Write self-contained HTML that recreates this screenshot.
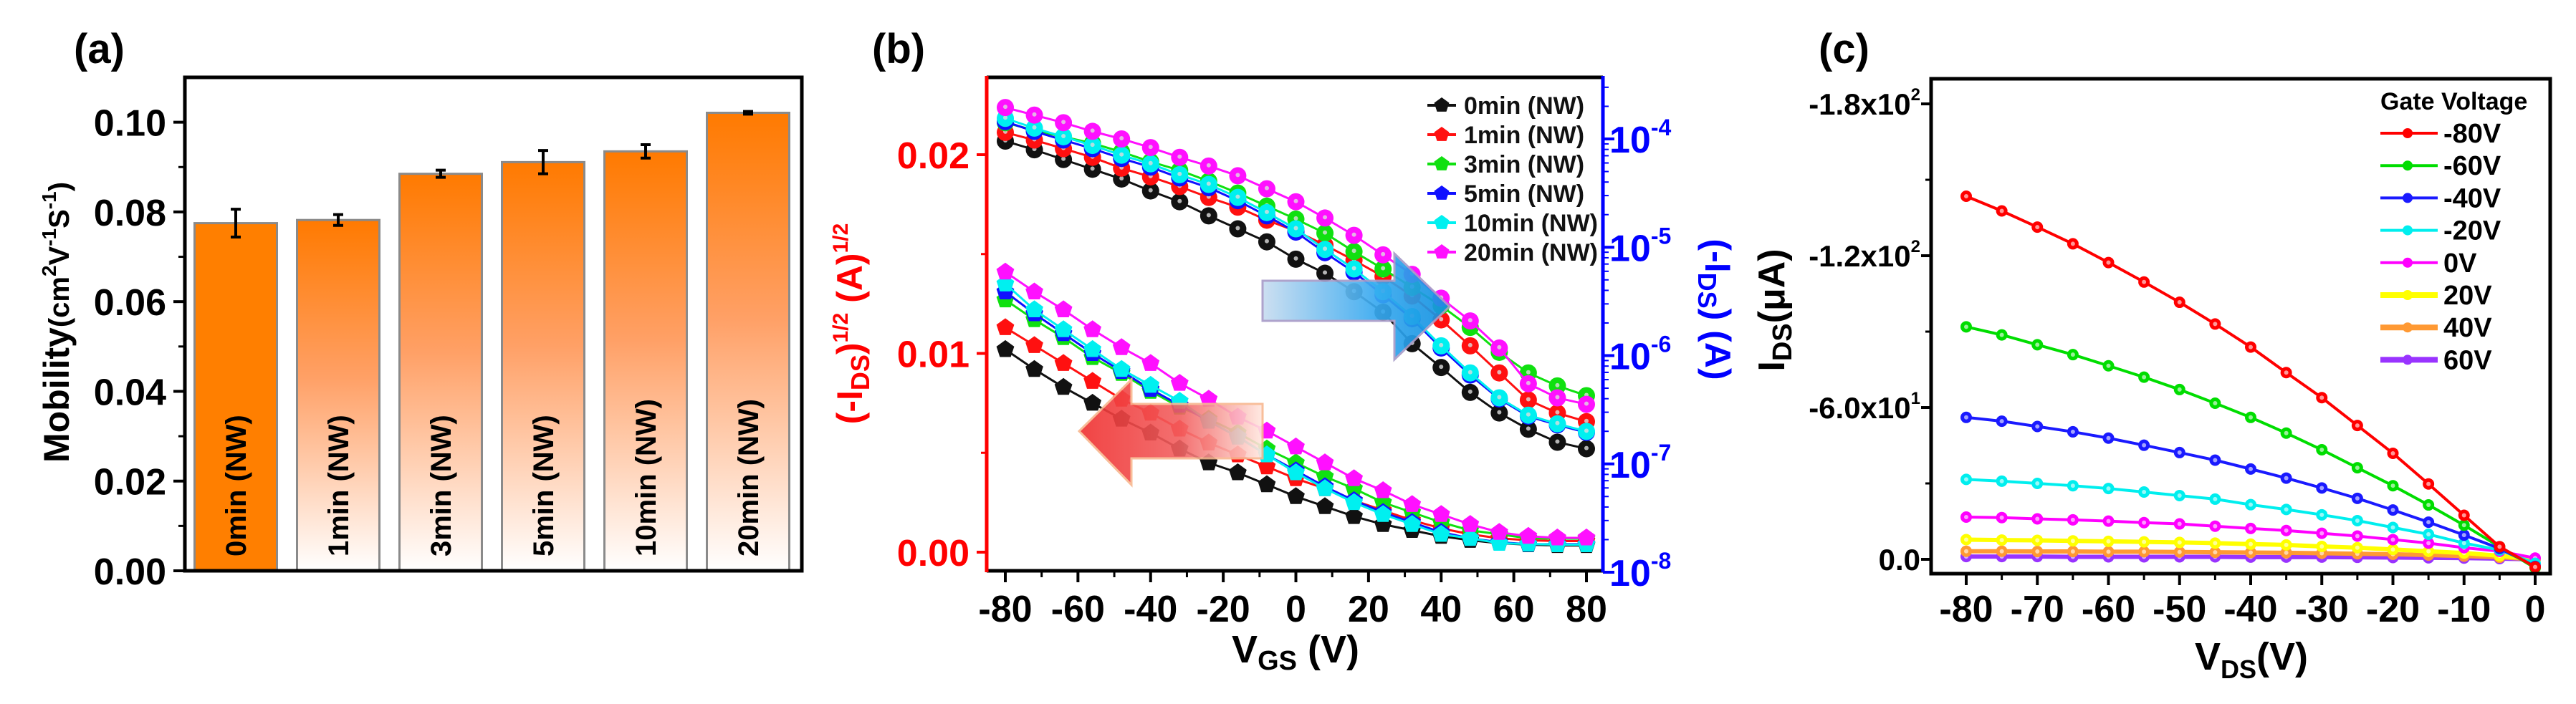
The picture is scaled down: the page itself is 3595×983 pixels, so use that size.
<!DOCTYPE html>
<html><head><meta charset="utf-8">
<style>
html,body{margin:0;padding:0;background:#fff;}
svg{display:block;font-family:"Liberation Sans",Arial,sans-serif;font-weight:bold;}
</style></head>
<body>
<svg id="fig" width="3595" height="983" viewBox="0 0 3595 983" xmlns="http://www.w3.org/2000/svg">
<defs>
<linearGradient id="barGrad" x1="0" y1="0" x2="0" y2="1">
<stop offset="0" stop-color="#ff7a00"/><stop offset="0.45" stop-color="#ffa066"/><stop offset="1" stop-color="#ffffff"/>
</linearGradient>
<linearGradient id="blueArrow" x1="0" y1="0" x2="1" y2="0">
<stop offset="0" stop-color="#c9ddf0"/><stop offset="0.6" stop-color="#3aaaf0"/><stop offset="1" stop-color="#1090e0"/>
</linearGradient>
<linearGradient id="redArrow" x1="0" y1="0" x2="1" y2="0">
<stop offset="0" stop-color="#f03030"/><stop offset="0.55" stop-color="#f26060"/><stop offset="1" stop-color="#ffe8e0"/>
</linearGradient>
</defs>
<g id="pa"></g>
<g id="pb"></g>
<g id="pc"></g>
</svg>
<script>
// ---------- Panel (a) data ----------
const barCategories = ["0min (NW)","1min (NW)","3min (NW)","5min (NW)","10min (NW)","20min (NW)"];
const mobilityValues = [0.0775,0.0782,0.0885,0.0911,0.0935,0.1021];
const mobilityErrors = [0.0031,0.0012,0.0008,0.0026,0.0015,0.0003];
const mobilityTicks = ["0.00","0.02","0.04","0.06","0.08","0.10"];

// ---------- Panel (b) data ----------
const vgsValues = [-80,-72,-64,-56,-48,-40,-32,-24,-16,-8,0,8,16,24,32,40,48,56,64,72,80];
const seriesBNames = ["0min (NW)","1min (NW)","3min (NW)","5min (NW)","10min (NW)","20min (NW)"];
const sqrt0 = [.0102,.0092,.0083,.0075,.0067,.0060,.0052,.0045,.0040,.0034,.0028,.0023,.0018,.0014,.0011,.0008,.0006,.00045,.00038,.00034,.00034];
const sqrt1 = [.0113,.0104,.0095,.0086,.0077,.0070,.0062,.0055,.0049,.0043,.0037,.0032,.0026,.0021,.0016,.0012,.0009,.0007,.0006,.00056,.00056];
const sqrt3 = [.0127,.0117,.0108,.0098,.0090,.0081,.0073,.0067,.0060,.0052,.0045,.0038,.0032,.0025,.0020,.0015,.0011,.0009,.0007,.00068,.00068];
const sqrt5 = [.0131,.0120,.0110,.0100,.0091,.0082,.0074,.0066,.0058,.0049,.0041,.0033,.0026,.0020,.0015,.0010,.0007,.0005,.0004,.0004,.0004];
const sqrt10 = [.0135,.0122,.0112,.0102,.0092,.0084,.0076,.0066,.0058,.0049,.0040,.0032,.0025,.0019,.0014,.0009,.0007,.00045,.00041,.00038,.00038];
const sqrt20 = [.0141,.0131,.0122,.0112,.0103,.0095,.0085,.0077,.0068,.0061,.0053,.0045,.0037,.0031,.0024,.0019,.0014,.0010,.0008,.00072,.00072];
const logI0 = [-4.02,-4.10,-4.19,-4.28,-4.37,-4.48,-4.58,-4.71,-4.83,-4.95,-5.11,-5.24,-5.41,-5.60,-5.89,-6.11,-6.34,-6.53,-6.68,-6.80,-6.86];
const logI1 = [-3.94,-4.01,-4.09,-4.17,-4.27,-4.35,-4.44,-4.54,-4.63,-4.75,-4.85,-4.98,-5.12,-5.27,-5.45,-5.67,-5.91,-6.16,-6.41,-6.53,-6.61];
const logI3 = [-3.85,-3.92,-3.98,-4.04,-4.12,-4.21,-4.29,-4.39,-4.50,-4.62,-4.74,-4.87,-5.04,-5.20,-5.37,-5.54,-5.74,-5.97,-6.16,-6.28,-6.37];
const logI5 = [-3.84,-3.93,-4.01,-4.09,-4.18,-4.26,-4.36,-4.45,-4.57,-4.71,-4.86,-5.05,-5.23,-5.44,-5.66,-5.93,-6.18,-6.40,-6.56,-6.64,-6.71];
const logI10 = [-3.81,-3.90,-3.98,-4.06,-4.15,-4.23,-4.33,-4.42,-4.54,-4.68,-4.83,-5.02,-5.20,-5.41,-5.64,-5.91,-6.16,-6.39,-6.55,-6.63,-6.70];
const logI20 = [-3.71,-3.78,-3.85,-3.93,-4.00,-4.08,-4.17,-4.25,-4.34,-4.46,-4.58,-4.73,-4.89,-5.07,-5.25,-5.47,-5.68,-5.93,-6.26,-6.39,-6.45];
const vgsTicks = ["-80","-60","-40","-20","0","20","40","60","80"];
const sqrtTicks = ["0.00","0.01","0.02"];
const logTickExps = [-8,-7,-6,-5,-4];

// ---------- Panel (c) data ----------
const vdsValues = [-80,-75,-70,-65,-60,-55,-50,-45,-40,-35,-30,-25,-20,-15,-10,-5,0];
const gateLabels = ["-80V","-60V","-40V","-20V","0V","20V","40V","60V"];
const idsM80 = [-143.5,-137.7,-131.3,-124.7,-117.3,-109.6,-101.6,-93.0,-83.9,-73.8,-63.9,-52.9,-41.9,-29.8,-17.4,-5.0,3.0];
const idsM60 = [-91.9,-88.7,-84.8,-80.9,-76.5,-72.0,-67.1,-61.7,-56.1,-49.9,-43.3,-36.2,-29.1,-21.5,-13.5,-5.0,3.4];
const idsM40 = [-56.1,-54.6,-52.5,-50.4,-47.9,-45.1,-42.2,-39.2,-35.7,-32.1,-28.2,-24.1,-19.5,-14.7,-9.6,-4.3,2.8];
const idsM20 = [-31.6,-30.9,-30.0,-29.1,-28.0,-26.6,-25.2,-23.8,-21.6,-19.7,-17.6,-15.3,-12.6,-9.9,-6.4,-3.7,1.6];
const ids0 = [-16.7,-16.5,-16.0,-15.6,-15.1,-14.5,-14.0,-13.1,-12.2,-11.4,-10.3,-9.2,-7.8,-6.4,-4.6,-3.2,-0.5];
const idsP20 = [-7.8,-7.6,-7.5,-7.3,-7.1,-6.9,-6.7,-6.4,-6.0,-5.7,-5.1,-4.6,-3.9,-3.2,-2.5,-1.4,0];
const idsP40 = [-3.2,-3.2,-3.1,-3.1,-3.0,-3.0,-2.9,-2.8,-2.7,-2.6,-2.4,-2.2,-2.0,-1.7,-1.3,-0.8,0];
const idsP60 = [-1.1,-1.1,-1.1,-1.0,-1.0,-1.0,-1.0,-1.0,-0.9,-0.9,-0.9,-0.8,-0.7,-0.6,-0.5,-0.3,0];
const vdsTicks = ["-80","-70","-60","-50","-40","-30","-20","-10","0"];
const idsTickVals = [-180,-120,-60,0];
const idsTickLabels = ["-1.8x10","-1.2x10","-6.0x10","0.0"];
const idsTickExps = ["2","2","1",""];

const NS="http://www.w3.org/2000/svg";
function mk(tag, parent, attrs){const e=document.createElementNS(NS,tag);for(const k in attrs)e.setAttribute(k,attrs[k]);parent.appendChild(e);return e;}
function txt(parent, x, y, s, size, attrs){const t=mk('text',parent,Object.assign({x:x,y:y,'font-size':size},attrs||{}));t.textContent=s;return t;}

// ================= PANEL A =================
(function(){
 const g=document.getElementById('pa');
 const L=258,R=1119,T=108,B=797,ymin=0,ymax=0.11;
 const ys=v=>B-(v-ymin)/(ymax-ymin)*(B-T);
 const step=143, x0=329, bw=115;
 const xs=i=>x0+i*step;
 let t=txt(g,103,88,"(a)",58,{});
 
 barCategories.forEach((c,i)=>{
  const v=mobilityValues[i];
  const r=mk('rect',g,{x:xs(i)-bw/2,y:ys(v),width:bw,height:B-ys(v),fill:i===0?'#ff7f00':'url(#barGrad)',stroke:'#8a8a8a','stroke-width':3});
  
  
  const e=mobilityErrors[i];
  const eb=mk('path',g,{d:`M${xs(i)},${ys(v+e)}V${ys(v-e)}M${xs(i)-7},${ys(v+e)}h14M${xs(i)-7},${ys(v-e)}h14`,stroke:'#000','stroke-width':4,fill:'none'});
  
  
  const lt=txt(g,0,0,c,40,{transform:`translate(${xs(i)+14},777) rotate(-90)`,fill:'#000'});
  
  
 });
 const fr=mk('rect',g,{x:L,y:T,width:R-L,height:B-T,fill:'none',stroke:'#000','stroke-width':5});
 
 mobilityTicks.forEach((s)=>{
  const v=parseFloat(s);
  mk('line',g,{x1:L-16,x2:L,y1:ys(v),y2:ys(v),stroke:'#000','stroke-width':4});
  const tl=txt(g,232,ys(v)+19,s,52,{'text-anchor':'end'});
  
 });
 for(let k=0;k<5;k++){const v=0.01+k*0.02;mk('line',g,{x1:L-9,x2:L,y1:ys(v),y2:ys(v),stroke:'#000','stroke-width':3});}
 const yt=mk('text',g,{transform:'translate(96,450) rotate(-90)','text-anchor':'middle','font-size':50});
 yt.innerHTML='Mobility<tspan font-size="40">(cm</tspan><tspan font-size="28" dy="-18">2</tspan><tspan font-size="40" dy="18">V</tspan><tspan font-size="28" dy="-18">-1</tspan><tspan font-size="40" dy="18">S</tspan><tspan font-size="28" dy="-18">-1</tspan><tspan font-size="40" dy="18">)</tspan>';
 
})();

// ================= PANEL B =================
(function(){
 const g=document.getElementById('pb');
 const L=1377,R=2237,T=108,B=797;
 const xs=v=>1403+(v+80)/160*811;
 const ys=v=>771-v/0.01*277.5;
 const yl=e=>194+(-4-e)*151.25;
 const cols=['#111111','#ff1010','#10e010','#1010ff','#00f0f0','#ff10ff'];
 const sqrtSets=[sqrt0,sqrt1,sqrt3,sqrt5,sqrt10,sqrt20];
 const logSets=[logI0,logI1,logI3,logI5,logI10,logI20];
 let t=txt(g,1217,88,"(b)",58,{});
 
 function pent(cx,cy,r){let p=[];for(let k=0;k<5;k++){const a=-Math.PI/2+k*2*Math.PI/5;p.push((cx+r*Math.cos(a)).toFixed(1)+','+(cy+r*Math.sin(a)).toFixed(1));}return p.join(' ');}
 // sqrt (linear) curves
 sqrtSets.forEach((arr,si)=>{
  const d=arr.map((v,i)=>(i?'L':'M')+xs(vgsValues[i])+','+ys(v)).join('');
  const p=mk('path',g,{d:d,stroke:cols[si],'stroke-width':3,fill:'none'});
  
  
  arr.forEach((v,i)=>{
   const m=mk('polygon',g,{points:pent(xs(vgsValues[i]),ys(v),13),fill:cols[si]});
   
   
  });
 });
 // log curves
 logSets.forEach((arr,si)=>{
  const d=arr.map((v,i)=>(i?'L':'M')+xs(vgsValues[i])+','+yl(v)).join('');
  const p=mk('path',g,{d:d,stroke:cols[si],'stroke-width':3,fill:'none'});
  
  
  arr.forEach((v,i)=>{
   const m=mk('circle',g,{cx:xs(vgsValues[i]),cy:yl(v),r:12,fill:cols[si]});
   
   
   mk('circle',g,{cx:xs(vgsValues[i]),cy:yl(v)-1,r:3,fill:'#ddd','opacity':0.8});
  });
 });
 // arrows
 const ba=mk('path',g,{d:'M1762,392H1946V354L2023,428L1946,502V448H1762Z',fill:'url(#blueArrow)',stroke:'#a89cc8','stroke-width':3,opacity:0.92});
 
 const ra=mk('path',g,{d:'M1762,564H1579V530L1506,602L1579,677V640H1762Z',fill:'url(#redArrow)',stroke:'#f8b890','stroke-width':3,opacity:0.9});
 
 // frame
 mk('line',g,{x1:L,x2:R,y1:T,y2:T,stroke:'#000','stroke-width':5});
 mk('line',g,{x1:L,x2:R,y1:B,y2:B,stroke:'#000','stroke-width':5});
 const la=mk('line',g,{x1:L,x2:L,y1:T-2,y2:B+2,stroke:'#ff0000','stroke-width':5});
 
 const raX=mk('line',g,{x1:R,x2:R,y1:T-2,y2:B+2,stroke:'#0000ff','stroke-width':5});
 
 // x ticks
 vgsTicks.forEach(s=>{const v=+s;mk('line',g,{x1:xs(v),x2:xs(v),y1:B,y2:B+16,stroke:'#000','stroke-width':4});
  const tl=txt(g,xs(v),868,s,52,{'text-anchor':'middle'});});
 for(let v=-70;v<=70;v+=20)mk('line',g,{x1:xs(v),x2:xs(v),y1:B,y2:B+9,stroke:'#000','stroke-width':3});
 // left ticks
 sqrtTicks.forEach(s=>{const v=+s;mk('line',g,{x1:L-14,x2:L,y1:ys(v),y2:ys(v),stroke:'#ff0000','stroke-width':4});
  const tl=txt(g,1353,ys(v)+19,s,52,{'text-anchor':'end',fill:'#ff0000'});});
 [0.005,0.015].forEach(v=>mk('line',g,{x1:L-8,x2:L,y1:ys(v),y2:ys(v),stroke:'#ff0000','stroke-width':3}));
 // right log ticks
 logTickExps.forEach(e=>{mk('line',g,{x1:R,x2:R+16,y1:yl(e),y2:yl(e),stroke:'#0000ff','stroke-width':4});
  const tl=mk('text',g,{x:2246,y:yl(e)+19,'font-size':52,fill:'#0000ff'});
  tl.innerHTML='10<tspan font-size="32" dy="-24">'+e+'</tspan>';
  
  for(let k=2;k<10;k++){const yy=yl(e+Math.log10(k));if(yy>T)mk('line',g,{x1:R,x2:R+8,y1:yy,y2:yy,stroke:'#0000ff','stroke-width':2});}
 });
 // axis titles
 const xt=mk('text',g,{x:1808,y:925,'font-size':54,'text-anchor':'middle'});
 xt.innerHTML='V<tspan font-size="38" dy="10">GS</tspan><tspan dy="-10"> (V)</tspan>';
 
 const lt=mk('text',g,{transform:'translate(1203,452) rotate(-90)','font-size':50,'text-anchor':'middle',fill:'#ff0000'});
 lt.innerHTML='(-I<tspan font-size="36" dy="10">DS</tspan><tspan dy="-10">)</tspan><tspan font-size="30" dy="-20">1/2</tspan><tspan dy="20"> (A)</tspan><tspan font-size="30" dy="-20">1/2</tspan>';
 
 const rt=mk('text',g,{transform:'translate(2380,432) rotate(90)','font-size':50,'text-anchor':'middle',fill:'#0000ff'});
 rt.innerHTML='(-I<tspan font-size="36" dy="10">DS</tspan><tspan dy="-10">) (A)</tspan>';
 
 // legend
 seriesBNames.forEach((n,i)=>{
  const y=147+i*41;
  mk('line',g,{x1:1992,x2:2032,y1:y,y2:y,stroke:cols[i],'stroke-width':4});
  const lm=mk('polygon',g,{points:pent(2012,y,11),fill:cols[i]});
  
  const le=txt(g,2043,y+12,n,34,{fill:'#111'});
  
 });
})();

// ================= PANEL C =================
(function(){
 const g=document.getElementById('pc');
 const L=2695,R=3559,T=110,B=801;
 const xs=v=>2744+(v+80)/80*794;
 const ys=v=>781+v*3.533;
 const cols=['#ff0000','#00dd00','#1a1aff','#00eeee','#ff00ff','#ffff00','#ff9933','#9933ff'];
 const sets=[idsM80,idsM60,idsM40,idsM20,ids0,idsP20,idsP40,idsP60];
 let t=txt(g,2538,88,"(c)",58,{});
 
 for(let si=sets.length-1;si>=0;si--){
  const arr=sets[si];
  const d=arr.map((v,i)=>(i?'L':'M')+xs(vdsValues[i])+','+ys(v)).join('');
  const p=mk('path',g,{d:d,stroke:cols[si],'stroke-width':si>=5?6:4,fill:'none'});
  
  
  arr.forEach((v,i)=>{
   const m=mk('circle',g,{cx:xs(vdsValues[i]),cy:ys(v),r:7,fill:cols[si],stroke:cols[si],'stroke-width':2});
   
   
   mk('circle',g,{cx:xs(vdsValues[i]),cy:ys(v),r:3,fill:'#fff',opacity:0.6});
  });
 }
 const fr=mk('rect',g,{x:L,y:T,width:R-L,height:B-T,fill:'none',stroke:'#000','stroke-width':5});
 
 vdsTicks.forEach(s=>{const v=+s;mk('line',g,{x1:xs(v),x2:xs(v),y1:B,y2:B+16,stroke:'#000','stroke-width':4});
  const tl=txt(g,xs(v),868,s,52,{'text-anchor':'middle'});});
 for(let v=-75;v<0;v+=10)mk('line',g,{x1:xs(v),x2:xs(v),y1:B,y2:B+9,stroke:'#000','stroke-width':3});
 idsTickVals.forEach((v,i)=>{mk('line',g,{x1:L-14,x2:L,y1:ys(v),y2:ys(v),stroke:'#000','stroke-width':4});
  const tl=mk('text',g,{x:2680,y:ys(v)+15,'font-size':42,'text-anchor':'end'});
  tl.innerHTML=idsTickLabels[i]+(idsTickExps[i]?'<tspan font-size="24" dy="-20">'+idsTickExps[i]+'</tspan>':'');
  });
 [-150,-90,-30].forEach(v=>mk('line',g,{x1:L-8,x2:L,y1:ys(v),y2:ys(v),stroke:'#000','stroke-width':3}));
 const xt=mk('text',g,{x:3142,y:935,'font-size':54,'text-anchor':'middle'});
 xt.innerHTML='V<tspan font-size="36" dy="12">DS</tspan><tspan dy="-12">(V)</tspan>';
 
 const yt=mk('text',g,{transform:'translate(2490,433) rotate(-90)','font-size':52,'text-anchor':'middle'});
 yt.innerHTML='I<tspan font-size="38" dy="10">DS</tspan><tspan dy="-10">(μA)</tspan>';
 
 const lh=txt(g,3322,153,'Gate Voltage',34,{});
 
 gateLabels.forEach((n,i)=>{
  const y=186+i*45.2;
  mk('line',g,{x1:3322,x2:3402,y1:y,y2:y,stroke:cols[i],'stroke-width':i>=5?8:4});
  const lm=mk('circle',g,{cx:3360,cy:y,r:7,fill:cols[i]});
  
  const le=txt(g,3410,y+13,n,38,{});
  
 });
})();
</script>
</body></html>
